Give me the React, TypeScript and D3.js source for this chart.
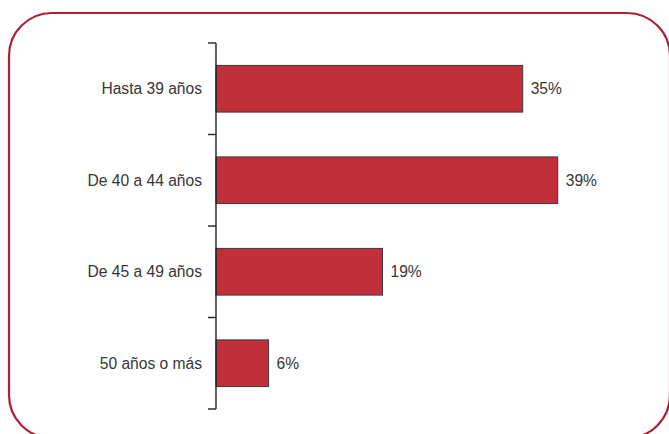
import React from "react";
import * as d3 from "d3";

const categories = ["Hasta 39 años", "De 40 a 44 años", "De 45 a 49 años", "50 años o más"];
const values = [35, 39, 19, 6];
const valueLabels = ["35%", "39%", "19%", "6%"];

const W = 669;
const H = 434;

export default function App() {
  const y = d3.scaleBand<string>().domain(categories).range([43, 409]).paddingInner(0.49).paddingOuter(0.245);
  const x = d3.scaleLinear().domain([0, 40]).range([216, 566.5]);
  const bandAll = d3.scaleBand<string>().domain(categories).range([43, 409]);
  const tickYs = [...categories.map((c) => bandAll(c)!), 409];
  const font = "'Liberation Sans', Arial, Helvetica, sans-serif";
  return (
    <svg width={W} height={H} style={{ position: "fixed", left: 0, top: 0, display: "block" }}>
      <rect x={0} y={0} width={W} height={H} fill="#fff" />
      <rect x={9} y={13} width={661} height={425} rx={43} ry={43} fill="none" stroke="#ad1f32" strokeWidth={2.2} />
      {categories.map((c, i) => (
        <g key={c}>
          <rect
            x={x(0)}
            y={y(c)!}
            width={x(values[i]) - x(0)}
            height={y.bandwidth()}
            fill="#c02f3a"
            stroke="#3a3a3a"
            strokeWidth={1}
          />
          <text
            x={202}
            y={y(c)! + y.bandwidth() / 2}
            dy="0.36em"
            textAnchor="end"
            fontFamily={font}
            fontSize={15.6}
            fill="#363636"
          >
            {c}
          </text>
          <text
            x={x(values[i]) + 8}
            y={y(c)! + y.bandwidth() / 2}
            dy="0.36em"
            fontFamily={font}
            fontSize={15.6}
            fill="#363636"
          >
            {valueLabels[i]}
          </text>
        </g>
      ))}
      <line x1={216} x2={216} y1={43} y2={409} stroke="#222" strokeWidth={1.4} />
      {tickYs.map((t, i) => (
        <line key={i} x1={208} x2={216} y1={t} y2={t} stroke="#222" strokeWidth={1.4} />
      ))}
    </svg>
  );
}
